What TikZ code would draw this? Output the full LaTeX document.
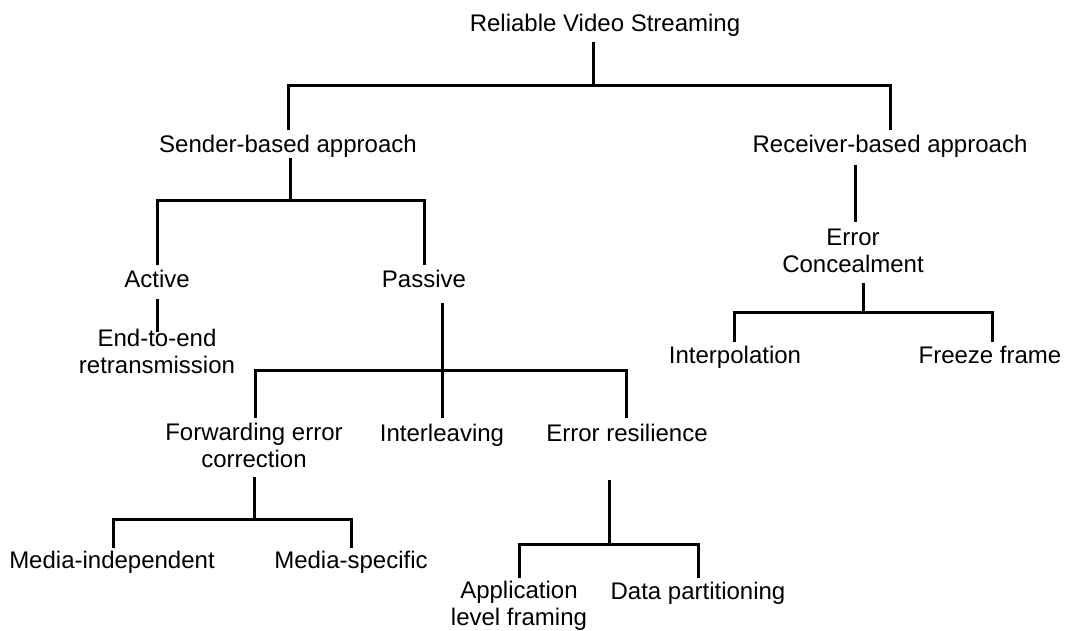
\documentclass[tikz,border=0pt]{standalone}
\usepackage{fontspec}
\setmainfont{Liberation Sans}
\begin{document}
\begin{tikzpicture}[x=1pt,y=-1pt,
  lbl/.style={inner sep=0pt,anchor=base,align=center,font=\fontsize{24}{27}\selectfont},
  link/.style={line width=3pt}]
\useasboundingbox (0,0) rectangle (1074,630);

% labels (two-line labels are placed by the baseline of their last line)
\node[lbl] (root)   at (605,31)  {Reliable Video Streaming};
\node[lbl] (sender) at (288,152) {Sender-based approach};
\node[lbl] (recv)   at (890,152) {Receiver-based approach};
\node[lbl] (active) at (157,287) {Active};
\node[lbl] (passive) at (424,287) {Passive};
\node[lbl] (etoe)   at (157,373) {End-to-end\\retransmission};
\node[lbl] (fec)    at (254,467) {Forwarding error\\correction};
\node[lbl] (inter)  at (442,441) {Interleaving};
\node[lbl] (eres)   at (627,441) {Error resilience};
\node[lbl] (mind)   at (112,568) {Media-independent};
\node[lbl] (mspec)  at (351,568) {Media-specific};
\node[lbl] (alf)    at (519,625) {Application\\level framing};
\node[lbl] (dpart)  at (698,599) {Data partitioning};
\node[lbl] (conceal) at (853,272) {Error\\Concealment};
\node[lbl] (interp) at (735,363) {Interpolation};
\node[lbl] (freeze) at (990,363) {Freeze frame};

% connector end points
\coordinate (root-s) at (593,42);
\coordinate (root-j) at (593,85);
\coordinate (sender-n) at (288,130);
\coordinate (recv-n) at (890,130);
\coordinate (sender-s) at (290,158);
\coordinate (sender-j) at (290,200);
\coordinate (active-n) at (157,265);
\coordinate (passive-n) at (424,265);
\coordinate (active-s) at (157,299);
\coordinate (etoe-n) at (157,332);
\coordinate (passive-s) at (442,303);
\coordinate (passive-j) at (442,370);
\coordinate (fec-n) at (255,418);
\coordinate (inter-n) at (442,418);
\coordinate (eres-n) at (626,418);
\coordinate (fec-s) at (254,477);
\coordinate (fec-j) at (254,519);
\coordinate (mind-n) at (113,548);
\coordinate (mspec-n) at (351,548);
\coordinate (eres-s) at (609,480);
\coordinate (eres-j) at (609,544);
\coordinate (alf-n) at (519,578);
\coordinate (dpart-n) at (698,578);
\coordinate (recv-s) at (855,165);
\coordinate (conceal-n) at (855,222);
\coordinate (conceal-s) at (863,283);
\coordinate (conceal-j) at (863,312);
\coordinate (interp-n) at (734,342);
\coordinate (freeze-n) at (992,342);

% tree connectors
\draw[link] (root-s) -- (root-j);
\draw[link] (sender-n) |- (root-j) -| (recv-n);
\draw[link] (sender-s) -- (sender-j);
\draw[link] (active-n) |- (sender-j) -| (passive-n);
\draw[link] (active-s) -- (etoe-n);
\draw[link] (passive-s) -- (inter-n);
\draw[link] (fec-n) |- (passive-j) -| (eres-n);
\draw[link] (fec-s) -- (fec-j);
\draw[link] (mind-n) |- (fec-j) -| (mspec-n);
\draw[link] (eres-s) -- (eres-j);
\draw[link] (alf-n) |- (eres-j) -| (dpart-n);
\draw[link] (recv-s) -- (conceal-n);
\draw[link] (conceal-s) -- (conceal-j);
\draw[link] (interp-n) |- (conceal-j) -| (freeze-n);
\end{tikzpicture}
\end{document}
